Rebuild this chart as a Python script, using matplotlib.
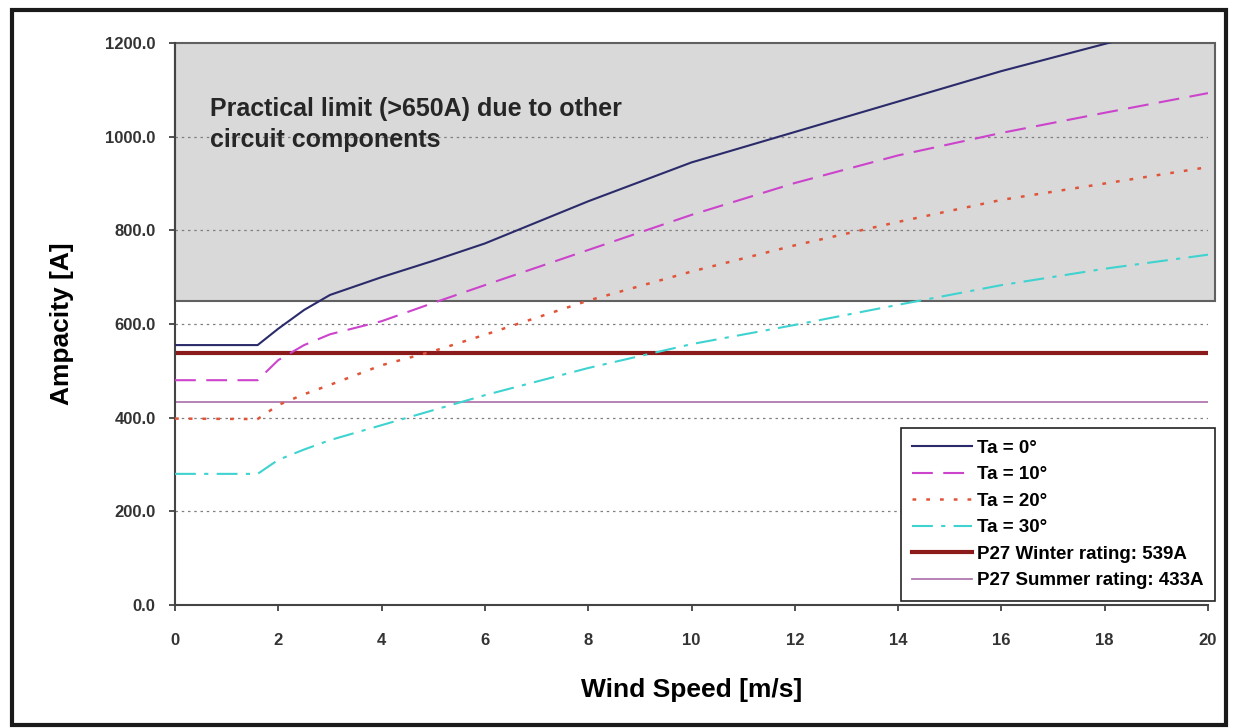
import matplotlib
matplotlib.use("Agg")
import matplotlib.pyplot as plt
from matplotlib.patches import Rectangle

plt.rcParams['font.family'] = ['Liberation Sans', 'DejaVu Sans']
plt.rcParams['font.weight'] = 'bold'

# Wind speed samples [m/s]
wind = [0, 1.6, 2, 2.5, 3, 4, 5, 6, 8, 10, 12, 14, 16, 18, 20]

# Ampacity [A] per ambient temperature
ta0 = [555, 555, 590, 630, 662, 700, 735, 772, 862, 945, 1010, 1075, 1140, 1198, 1255]
ta10 = [480, 480, 523, 555, 578, 606, 645, 683, 758, 833, 901, 960, 1008, 1051, 1093]
ta20 = [398, 397, 427, 450, 470, 512, 542, 577, 650, 712, 768, 818, 865, 900, 935]
ta30 = [280, 280, 310, 332, 352, 384, 416, 448, 506, 557, 598, 641, 683, 718, 748]

winter_rating = 539
summer_rating = 433
practical_limit = 650

series_labels = ['Ta = 0°', 'Ta = 10°', 'Ta = 20°', 'Ta = 30°']
rating_labels = ['P27 Winter rating: 539A', 'P27 Summer rating: 433A']

fig = plt.figure(figsize=(12.36, 7.28), dpi=100)
ax = fig.add_axes([175 / 1236, 1 - 605 / 728, (1208 - 175) / 1236, (605 - 43) / 728])

# outer frame
fig.patches.append(Rectangle((12 / 1236, 3 / 728), 1214 / 1236, 715 / 728,
                             transform=fig.transFigure, fill=False,
                             edgecolor='#1a1a1a', linewidth=3))

# practical limit zone
ax.add_patch(Rectangle((0, practical_limit), 1.007, 1200 - practical_limit,
                       transform=ax.get_yaxis_transform(), facecolor='#d9d9d9',
                       edgecolor='#606060', linewidth=1.5, clip_on=False, zorder=0))

for g in [200, 400, 600, 800, 1000]:
    ax.axhline(g, color='#808080', linestyle=(0, (2, 3)), linewidth=0.9, zorder=1)

ax.plot(wind, ta0, color='#2b2b6b', linewidth=1.5, label=series_labels[0], zorder=3)
ax.plot(wind, ta10, color='#cc44cc', linewidth=1.5, linestyle=(0, (10, 5)),
        label=series_labels[1], zorder=3)
ax.plot(wind, ta20, color='#e0553a', linewidth=1.8, linestyle=(0, (1.5, 4)),
        label=series_labels[2], zorder=3)
ax.plot(wind, ta30, color='#3fd3d0', linewidth=1.5, linestyle=(0, (10, 4, 2, 4)),
        label=series_labels[3], zorder=3)
ax.axhline(winter_rating, color='#8b1a1a', linewidth=3, label=rating_labels[0], zorder=2)
ax.axhline(summer_rating, color='#b07ab0', linewidth=1.3, label=rating_labels[1], zorder=2)

ax.text(0.68, 1085, 'Practical limit (>650A) due to other\ncircuit components',
        fontsize=18, fontweight='bold', color='#262626', va='top', ha='left',
        linespacing=1.35, zorder=4)

ax.set_xlim(0, 20)
ax.set_ylim(0, 1200)
ax.set_xticks(range(0, 21, 2))
ax.set_yticks(range(0, 1201, 200))
ax.set_yticklabels([f'{v:.1f}' for v in range(0, 1201, 200)])
ax.tick_params(axis='both', labelsize=12, direction='out', length=4, width=1.2,
               colors='#333333')
ax.tick_params(axis='x', pad=16)
ax.tick_params(axis='y', pad=10)
for s in ['top', 'right']:
    ax.spines[s].set_visible(False)
for s in ['left', 'bottom']:
    ax.spines[s].set_color('#444444')
    ax.spines[s].set_linewidth(1.5)

ax.set_xlabel('Wind Speed [m/s]', fontsize=19, fontweight='bold', labelpad=22)
ax.set_ylabel('Ampacity [A]', fontsize=19, fontweight='bold', labelpad=22)

leg = ax.legend(loc='lower right', bbox_to_anchor=(1.007, 0.008), fontsize=13.5,
                frameon=True, fancybox=False, edgecolor='#222222', framealpha=1,
                handlelength=3.2, labelspacing=0.5, borderpad=0.6, handletextpad=0.3,
                borderaxespad=0)
leg.get_frame().set_linewidth(1.2)

fig.savefig('out.png', dpi=100)
